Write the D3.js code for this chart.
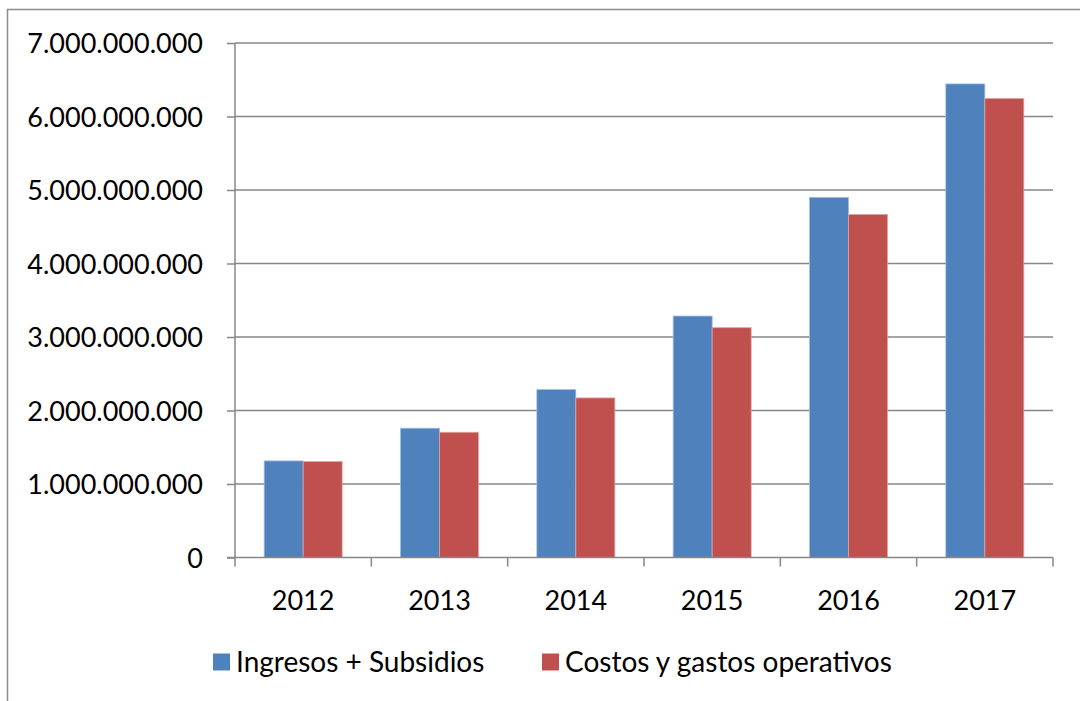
<!DOCTYPE html>
<html>
<head>
<meta charset="utf-8">
<script src="https://cdn.jsdelivr.net/npm/d3@7"></script>
<style>
  html, body { margin: 0; padding: 0; background: #fff; }
  svg { display: block; }
  text { font-family: Lato, "Open Sans", sans-serif; fill: #000; }
</style>
</head>
<body>
<svg id="chart" width="1080" height="701"></svg>
<script>
const years = ["2012", "2013", "2014", "2015", "2016", "2017"];
const seriesNames = ["Ingresos + Subsidios", "Costos y gastos operativos"];
const ingresos = [1314000000, 1759000000, 2284000000, 3285000000, 4899000000, 6443000000];
const costos = [1305000000, 1704000000, 2171000000, 3127000000, 4668000000, 6244000000];
const yTicks = [0, 1000000000, 2000000000, 3000000000, 4000000000, 5000000000, 6000000000, 7000000000];
const colors = ["#4F81BD", "#C0504D"];

(function () {
const svg = d3.select("#chart");
const W = 1080, H = 701;
const pLeft = 235, pRight = 1053, pTop = 43, pBottom = 557.5;
const fontSize = 27;
const legendFont = 28;

// outer frame (only top and left visible)
svg.append("path")
  .attr("d", `M7.5,${H + 5} L7.5,9.5 L${W + 5},9.5`)
  .attr("fill", "none").attr("stroke", "#8c8c8c").attr("stroke-width", 1.5);

const y = d3.scaleLinear().domain([0, 7000000000]).range([pBottom, pTop]);
const x0 = d3.scaleBand().domain(years).range([pLeft, pRight]).padding(0);
const groupW = x0.bandwidth() * 0.572;
const off = (x0.bandwidth() - groupW) / 2;
const x1 = d3.scaleBand().domain(seriesNames).range([off, off + groupW]).padding(0);

const loc = d3.formatLocale({ decimal: ",", thousands: ".", grouping: [3], currency: ["", ""] });
const fmt = loc.format(",");

// gridlines
svg.append("g").selectAll("line").data(yTicks.filter(d => d > 0)).join("line")
  .attr("x1", pLeft).attr("x2", pRight)
  .attr("y1", d => y(d)).attr("y2", d => y(d))
  .attr("stroke", "#878787").attr("stroke-width", 1.5);

// bars
const data = years.map((yr, i) => ({ year: yr, vals: [ingresos[i], costos[i]] }));
const groups = svg.append("g").selectAll("g").data(data).join("g")
  .attr("transform", d => `translate(${x0(d.year)},0)`);
groups.selectAll("rect").data(d => d.vals.map((v, k) => ({ v, k }))).join("rect")
  .attr("x", d => x1(seriesNames[d.k]))
  .attr("width", x1.bandwidth())
  .attr("y", d => y(d.v))
  .attr("height", d => y(0) - y(d.v))
  .attr("fill", d => colors[d.k])
  .attr("stroke", d => d.k === 0 ? "#9fbbe0" : "#e0a3a1")
  .attr("stroke-width", 0.8);

// y axis
const yAxis = d3.axisLeft(y).tickValues(yTicks).tickFormat(fmt).tickSize(8).tickPadding(24);
const gy = svg.append("g").attr("transform", `translate(${pLeft},0)`).call(yAxis);
gy.select(".domain").attr("stroke", "#878787").attr("stroke-width", 1.5).attr("d", `M0,${pTop}V${pBottom}`);
gy.selectAll(".tick line").attr("stroke", "#878787").attr("stroke-width", 1.5);
gy.selectAll(".tick text").attr("font-size", fontSize).attr("font-family", "Lato, sans-serif").attr("fill", "#000").attr("dy", "0.36em");

// x axis
const gx = svg.append("g").attr("transform", `translate(0,${pBottom})`);
gx.append("line").attr("x1", pLeft - 8).attr("x2", pRight).attr("y1", 0).attr("y2", 0)
  .attr("stroke", "#878787").attr("stroke-width", 1.5);
const bounds = years.map(yr => x0(yr)).concat([x0(years[years.length - 1]) + x0.bandwidth()]);
gx.selectAll("line.ct").data(bounds).join("line").attr("class", "ct")
  .attr("x1", d => d).attr("x2", d => d).attr("y1", 0).attr("y2", 9)
  .attr("stroke", "#878787").attr("stroke-width", 1.5);
gx.selectAll("text").data(years).join("text")
  .attr("x", d => x0(d) + x0.bandwidth() / 2)
  .attr("y", 43).attr("dy", "0.36em")
  .attr("text-anchor", "middle").attr("font-size", fontSize)
  .text(d => d);

// legend
const legendItems = [
  { name: seriesNames[0], color: colors[0], x: 213 },
  { name: seriesNames[1], color: colors[1], x: 542 }
];
const lg = svg.append("g").selectAll("g").data(legendItems).join("g")
  .attr("transform", d => `translate(${d.x},662)`);
lg.append("rect").attr("x", 0).attr("y", -8.5).attr("width", 17).attr("height", 17)
  .attr("fill", d => d.color);
lg.append("text").attr("x", 23).attr("dy", "0.36em").attr("font-size", legendFont)
  .text(d => d.name);
})();
</script>
</body>
</html>
